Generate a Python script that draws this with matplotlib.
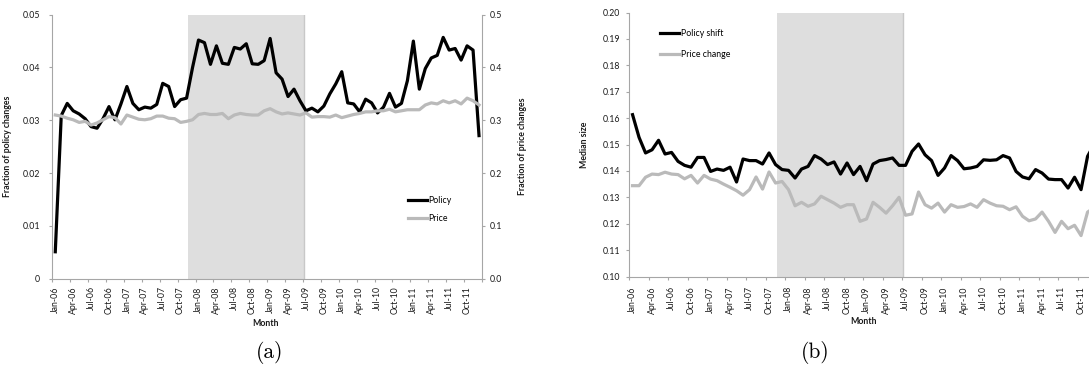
import numpy as np
import pandas as pd
import matplotlib
matplotlib.use('Agg')
import matplotlib.pyplot as plt

# monthly observations, Jan-2006 .. Dec-2011
months = pd.date_range('2006-01-01', periods=72, freq='MS')
month_labels = [m.strftime('%b-%y') for m in months]

# (a) fraction of policies / prices that change each month
policy_frac = [0.0051, 0.0309, 0.0332, 0.0318, 0.0312, 0.0303, 0.0288, 0.0285, 0.0303, 0.0326,
               0.0301, 0.0331, 0.0364, 0.0332, 0.0320, 0.0325, 0.0323, 0.0330, 0.0370, 0.0364,
               0.0326, 0.0339, 0.0342, 0.0400, 0.0452, 0.0447, 0.0406, 0.0441, 0.0408, 0.0406,
               0.0438, 0.0435, 0.0445, 0.0407, 0.0406, 0.0413, 0.0455, 0.0390, 0.0378, 0.0345,
               0.0359, 0.0337, 0.0318, 0.0323, 0.0316, 0.0327, 0.0350, 0.0369, 0.0392, 0.0333,
               0.0331, 0.0316, 0.0340, 0.0333, 0.0314, 0.0325, 0.0351, 0.0325, 0.0332, 0.0375,
               0.0450, 0.0359, 0.0398, 0.0418, 0.0423, 0.0457, 0.0433, 0.0436, 0.0414, 0.0441,
               0.0433, 0.0271]
price_frac = [0.310, 0.308, 0.304, 0.301, 0.296, 0.298, 0.291, 0.295, 0.301, 0.307,
              0.305, 0.293, 0.310, 0.306, 0.302, 0.301, 0.303, 0.308, 0.308, 0.304,
              0.303, 0.296, 0.298, 0.301, 0.311, 0.313, 0.311, 0.311, 0.313, 0.303,
              0.310, 0.313, 0.311, 0.310, 0.310, 0.318, 0.322, 0.316, 0.312, 0.314,
              0.312, 0.310, 0.314, 0.306, 0.307, 0.307, 0.306, 0.310, 0.305, 0.308,
              0.311, 0.313, 0.316, 0.316, 0.318, 0.318, 0.321, 0.316, 0.318, 0.320,
              0.320, 0.320, 0.329, 0.333, 0.331, 0.337, 0.333, 0.337, 0.331, 0.342,
              0.337, 0.329]

# (b) median size of policy shifts and price changes
policy_size = [0.1613, 0.1527, 0.1468, 0.1480, 0.1516, 0.1464, 0.1470, 0.1436, 0.1421, 0.1414,
               0.1451, 0.1451, 0.1398, 0.1407, 0.1402, 0.1414, 0.1358, 0.1445, 0.1439, 0.1439,
               0.1426, 0.1468, 0.1424, 0.1405, 0.1402, 0.1373, 0.1407, 0.1417, 0.1458, 0.1445,
               0.1424, 0.1434, 0.1388, 0.1430, 0.1386, 0.1417, 0.1363, 0.1426, 0.1439, 0.1443,
               0.1449, 0.1421, 0.1421, 0.1474, 0.1502, 0.1461, 0.1439, 0.1383, 0.1411, 0.1458,
               0.1439, 0.1408, 0.1411, 0.1417, 0.1442, 0.1440, 0.1442, 0.1458, 0.1449, 0.1398,
               0.1377, 0.1370, 0.1405, 0.1392, 0.1369, 0.1367, 0.1367, 0.1335, 0.1376, 0.1329,
               0.1455, 0.1500]
price_size = [0.1344, 0.1344, 0.1376, 0.1388, 0.1386, 0.1395, 0.1388, 0.1386, 0.1370, 0.1383,
              0.1354, 0.1383, 0.1369, 0.1363, 0.1350, 0.1338, 0.1325, 0.1308, 0.1329, 0.1377,
              0.1331, 0.1396, 0.1354, 0.1360, 0.1329, 0.1268, 0.1281, 0.1266, 0.1275, 0.1304,
              0.1291, 0.1278, 0.1262, 0.1272, 0.1272, 0.1209, 0.1218, 0.1281, 0.1262, 0.1240,
              0.1268, 0.1300, 0.1232, 0.1237, 0.1320, 0.1272, 0.1259, 0.1278, 0.1244, 0.1272,
              0.1262, 0.1265, 0.1275, 0.1262, 0.1291, 0.1278, 0.1268, 0.1266, 0.1253, 0.1264,
              0.1228, 0.1211, 0.1218, 0.1244, 0.1209, 0.1167, 0.1209, 0.1181, 0.1194, 0.1155,
              0.1244, 0.1260]

# recession band, in month-index units
shade_start, shade_end = 22.2, 41.6

AXIS_GREY = '#a6a6a6'
LINE_GREY = '#bababa'
SHADE = '#dedede'
TEXT = '#1a1a1a'
FONT = 'Lato'
FS = 6.3

plt.rcParams['font.family'] = FONT
plt.rcParams['font.size'] = FS

x = np.arange(len(months))


def style_axis(ax, ypad, xpad):
    for side in ['top', 'right']:
        ax.spines[side].set_visible(False)
    for side in ['left', 'bottom']:
        ax.spines[side].set_color(AXIS_GREY)
        ax.spines[side].set_linewidth(0.8)
    ax.set_xlim(-0.5, 71.5)
    ax.set_xticks(x[::3])
    ax.set_xticklabels(month_labels[::3], rotation=90, color=TEXT, fontsize=FS)
    ax.set_xticks(np.arange(-0.5, 72, 3), minor=True)
    ax.tick_params(axis='x', which='major', length=0, pad=xpad)
    ax.tick_params(axis='x', which='minor', length=2.2, width=0.8, color=AXIS_GREY, direction='out')
    ax.tick_params(axis='y', length=2.2, width=0.8, color=AXIS_GREY, direction='out',
                   pad=ypad, labelcolor=TEXT, labelsize=FS)
    ax.axvspan(shade_start, shade_end, color=SHADE, lw=0, zorder=0)
    ax.axvline(shade_end, color='#c8c8c8', lw=1.0, zorder=0.5)


W, H = 1089, 376
fig = plt.figure(figsize=(W / 100, H / 100), dpi=100)

# ---- (a) frequency of changes, two y axes
ax1 = fig.add_axes([52.3 / W, 1 - 278.7 / H, (482 - 52.3) / W, 264 / H])
style_axis(ax1, ypad=6.5, xpad=5.5)
ax1.set_ylim(0, 0.05)
ax1.set_yticks([0, 0.01, 0.02, 0.03, 0.04, 0.05])
ax1.set_yticklabels(['0', '0.01', '0.02', '0.03', '0.04', '0.05'])
l1, = ax1.plot(x, policy_frac, color='black', lw=2.3, solid_joinstyle='round', label='Policy')
ax1.set_ylabel('Fraction of policy changes', fontweight='bold', fontsize=FS, color=TEXT)
ax1.yaxis.set_label_coords(-0.094, 0.5)
ax1.set_xlabel('Month', fontweight='bold', fontsize=FS, color=TEXT)
ax1.xaxis.set_label_coords(0.495, -0.168)
ax1.xaxis.label.set_va('center')

ax2 = ax1.twinx()
for side in ['top', 'left', 'bottom']:
    ax2.spines[side].set_visible(False)
ax2.spines['right'].set_color(AXIS_GREY)
ax2.spines['right'].set_linewidth(0.8)
ax2.set_ylim(0, 0.5)
ax2.set_yticks([0, 0.1, 0.2, 0.3, 0.4, 0.5])
ax2.set_yticklabels(['0.0', '0.1', '0.2', '0.3', '0.4', '0.5'])
ax2.tick_params(axis='y', length=2.2, width=0.8, color=AXIS_GREY, direction='out',
                pad=3.6, labelcolor=TEXT, labelsize=FS)
l2, = ax2.plot(x, price_frac, color=LINE_GREY, lw=2.3, solid_joinstyle='round', label='Price')
ax2.set_ylabel('Fraction of price changes', fontweight='bold', fontsize=FS, color=TEXT,
               rotation=90)
ax2.yaxis.set_label_coords(1.084, 0.5)
ax2.legend(handles=[l1, l2], loc='center left', bbox_to_anchor=(0.828, 0.262), frameon=False,
           fontsize=FS, handlelength=2.2, handletextpad=0.15, labelspacing=1.0,
           borderpad=0, borderaxespad=0)

# ---- (b) median size of changes
ax3 = fig.add_axes([629.3 / W, 1 - 276.5 / H, 468 / W, 264 / H])
style_axis(ax3, ypad=4.2, xpad=7.0)
ax3.set_ylim(0.10, 0.20)
ax3.set_yticks(np.round(np.arange(0.10, 0.201, 0.01), 2))
ax3.yaxis.set_major_formatter(matplotlib.ticker.FormatStrFormatter('%.2f'))
ax3.plot(x, policy_size, color='black', lw=2.3, solid_joinstyle='round', label='Policy shift')
ax3.plot(x, price_size, color=LINE_GREY, lw=2.3, solid_joinstyle='round', label='Price change')
ax3.set_ylabel('Median size', fontweight='bold', fontsize=FS, color=TEXT)
ax3.yaxis.set_label_coords(-0.086, 0.5)
ax3.set_xlabel('Month', fontweight='bold', fontsize=FS, color=TEXT)
ax3.xaxis.set_label_coords(0.5, -0.172)
ax3.xaxis.label.set_va('center')
ax3.legend(loc='center left', bbox_to_anchor=(0.0656, 0.8795), frameon=False,
           fontsize=FS, handlelength=2.2, handletextpad=0.15, labelspacing=1.4,
           borderpad=0, borderaxespad=0)

# sub-figure captions
fig.text(270 / W, 1 - 352 / H, '(a)', family='cmr10', fontsize=15.5, ha='center', va='center')
fig.text(815 / W, 1 - 352 / H, '(b)', family='cmr10', fontsize=15.5, ha='center', va='center')

fig.savefig('out.png', dpi=100, facecolor='white')
